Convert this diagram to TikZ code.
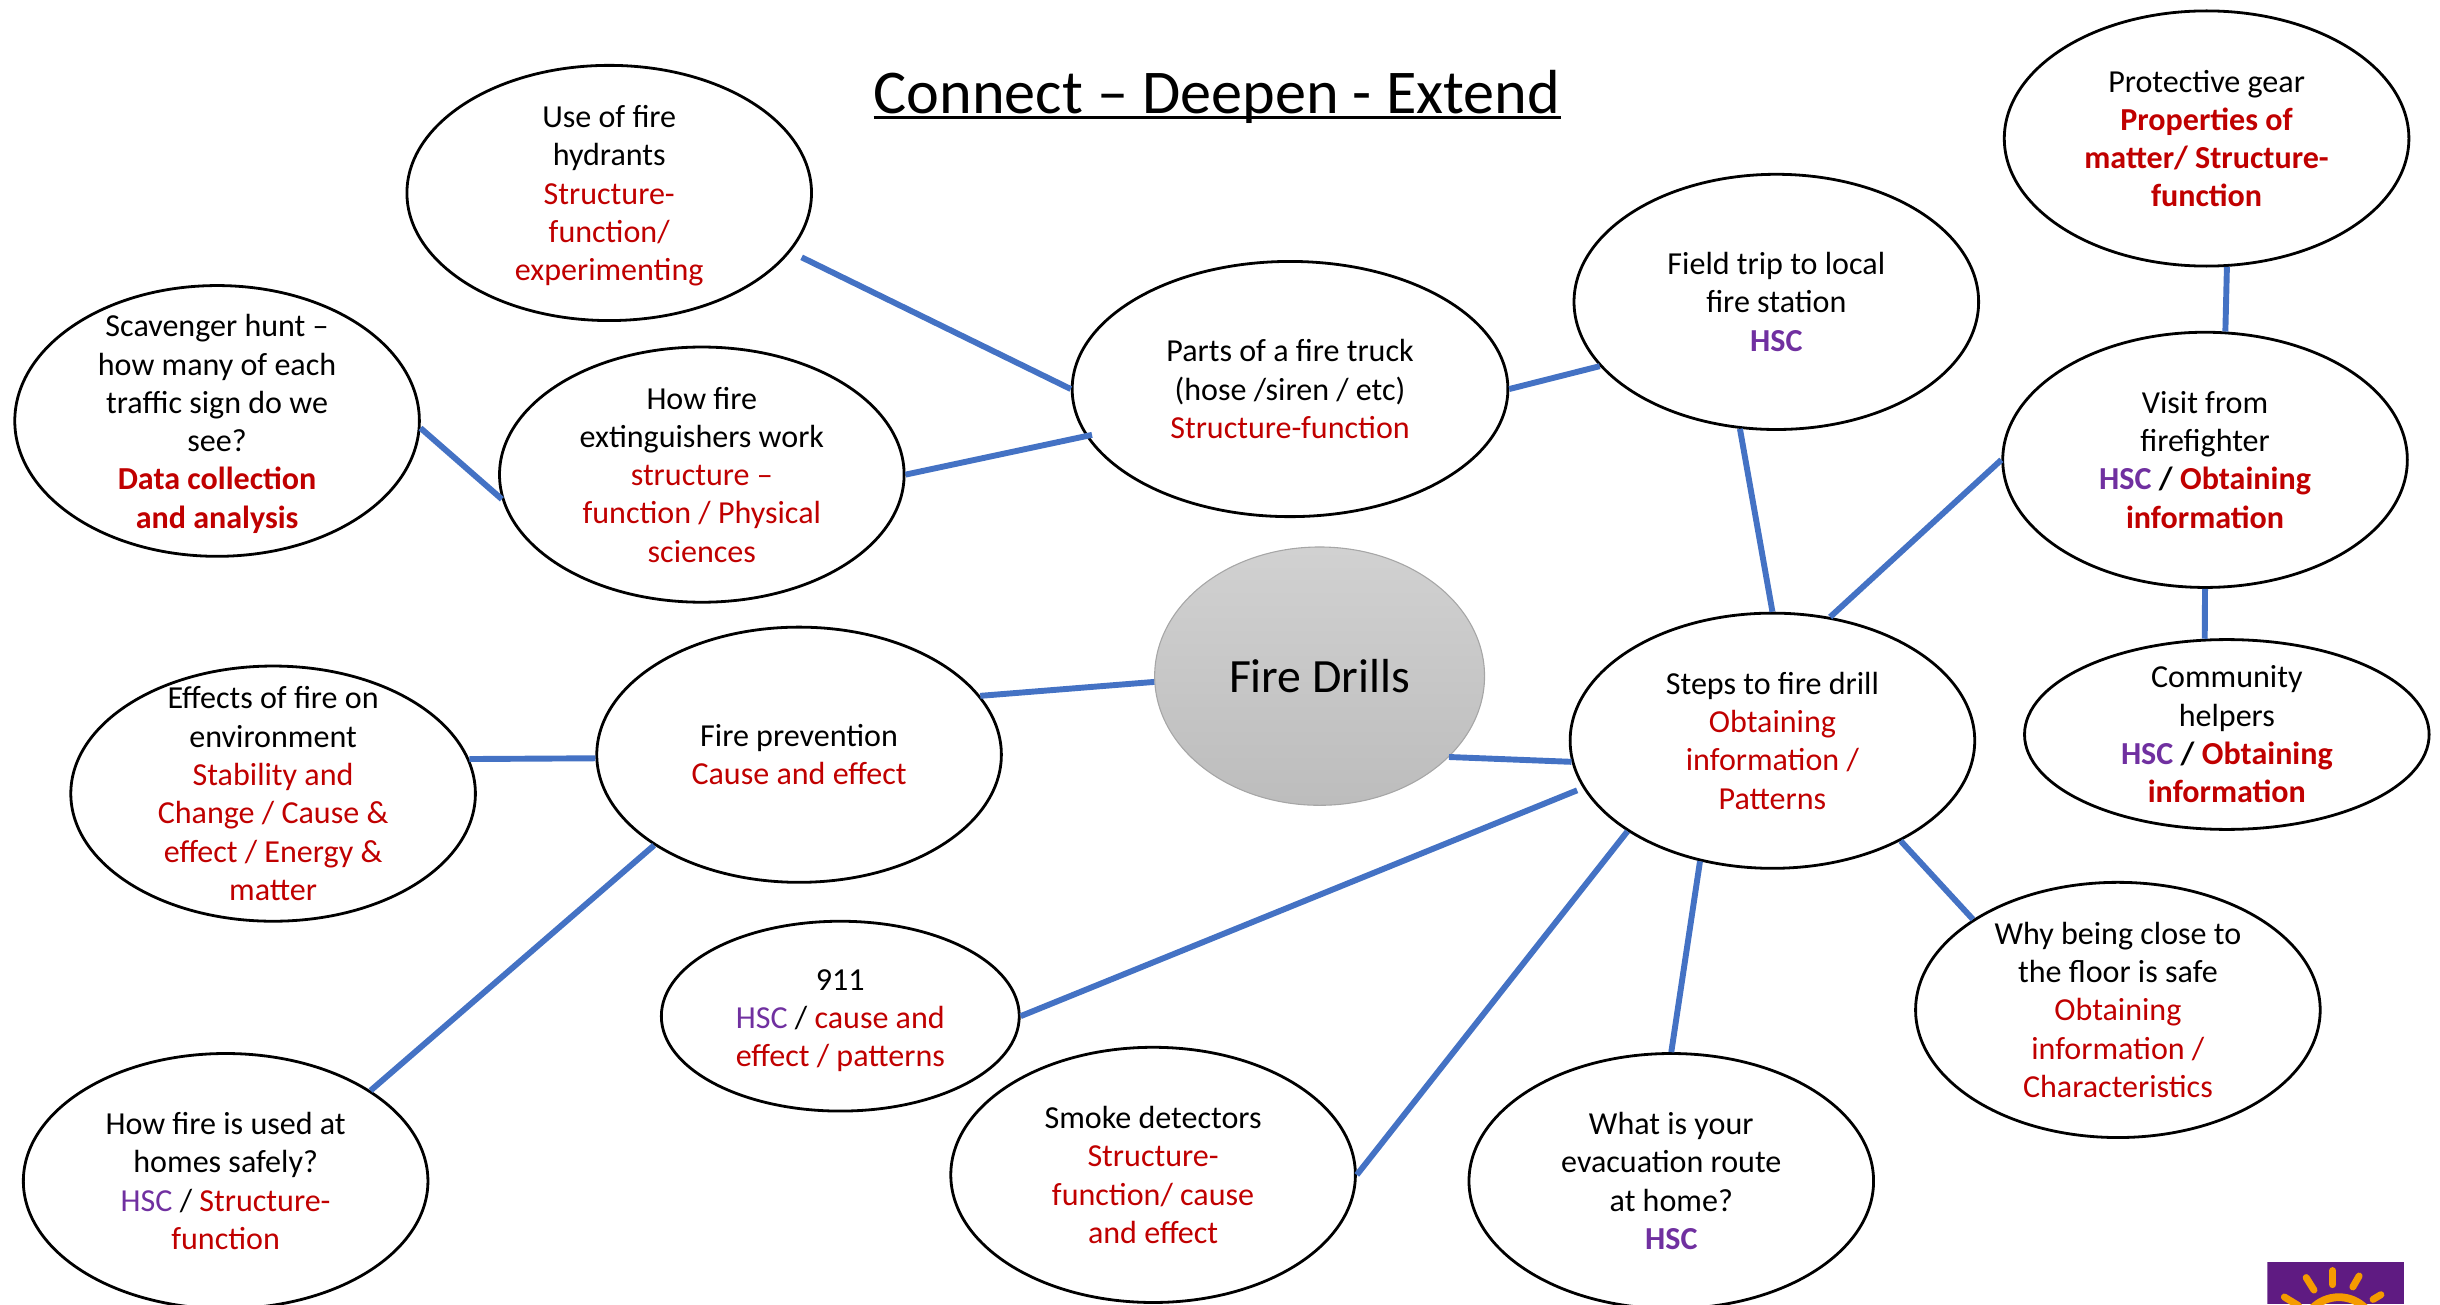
\documentclass[tikz,border=0pt]{standalone}
\usepackage{fontspec}
\setmainfont{Carlito}
\usetikzlibrary{shapes.geometric}
\definecolor{firered}{HTML}{C00000}
\definecolor{hscpurple}{HTML}{7030A0}
\definecolor{linkblue}{HTML}{4472C4}
\definecolor{logopurple}{HTML}{5F1B82}
\definecolor{logoorange}{HTML}{F59B00}
\newcommand{\rd}[1]{\textcolor{firered}{#1}}
\newcommand{\rb}[1]{\textcolor{firered}{\bfseries #1}}
\newcommand{\hsc}{\textcolor{hscpurple}{HSC}}
\newcommand{\hscb}{\textcolor{hscpurple}{\bfseries HSC}}
\newcommand{\dn}[1]{\rule{0pt}{#1pt}}
\tikzset{
  bubble/.style={draw=black, line width=1.8pt, ellipse, inner xsep=0pt, inner ysep=-15pt,
    minimum width=260pt, minimum height=164pt, align=center,
    font=\fontsize{20.6}{24.6}\selectfont},
  smallbubble/.style={bubble, minimum height=122pt},
  link/.style={draw=linkblue, line width=3.8pt},
  ray/.style={draw=logoorange, line width=4.5pt, line cap=round}
}
\begin{document}
\begin{tikzpicture}[x=1pt, y=-1pt]
\useasboundingbox (0,0) rectangle (1568,838);
\node[font=\fontsize{40}{48}\selectfont] (title) at (782,62.5) {\rlap{\rule[-3.5pt]{442pt}{2.2pt}}Connect – Deepen - Extend};
\node[bubble] (hydrant) at (391.5,124) {\dn{18}Use of fire\\hydrants\\\rd{Structure-}\\\rd{function/}\\\rd{experimenting}};
\node[bubble, minimum width=280pt] (truck) at (829,250) {Parts of a fire truck\\(hose /siren / etc)\\\rd{Structure-function}};
\node[bubble] (field) at (1141.5,194) {Field trip to local\\fire station\\\hscb};
\node[bubble] (gear) at (1418,89) {Protective gear\\\rb{Properties of}\\\rb{matter/ Structure-}\\\rb{function}};
\node[bubble, minimum height=174pt] (scavenger) at (139.5,270.5) {\dn{18}Scavenger hunt –\\how many of each\\traffic sign do we\\see?\\\rb{Data collection}\\\rb{and analysis}};
\node[bubble] (extinguisher) at (451,305) {How fire\\extinguishers work\\\rd{structure –}\\\rd{function / Physical}\\\rd{sciences}};
\node[bubble] (visit) at (1417,295.5) {Visit from\\firefighter\\\hscb{} \textbf{/} \rb{Obtaining}\\\rb{information}};
\node[smallbubble] (community) at (1431,472) {Community\\helpers\\\hscb{} \textbf{/} \rb{Obtaining}\\\rb{information}};
\node[bubble] (steps) at (1139,476) {Steps to fire drill\\\rd{Obtaining}\\\rd{information /}\\\rd{Patterns}};
\node[ellipse, draw=black!35, line width=0.7pt, top color=black!18, bottom color=black!26, inner sep=0pt,
  minimum width=212pt, minimum height=166pt, font=\fontsize{30.7}{38}\selectfont] (drills) at (848,434.5) {Fire Drills};
\node[bubble] (prevention) at (513.5,485) {Fire prevention\\\rd{Cause and effect}};
\node[bubble] (effects) at (175.5,510) {Effects of fire on\\environment\\\rd{Stability and}\\\rd{Change / Cause \&}\\\rd{effect / Energy \&}\\\rd{matter}};
\node[smallbubble, minimum width=230pt] (nine) at (540,653) {\dn{19}911\\\hsc{} / \rd{cause and}\\\rd{effect / patterns}};
\node[bubble] (homes) at (145,759) {How fire is used at\\homes safely?\\\hsc{} / \rd{Structure-}\\\rd{function}};
\node[bubble] (smoke) at (741,755) {Smoke detectors\\\rd{Structure-}\\\rd{function/ cause}\\\rd{and effect}};
\node[bubble] (route) at (1074,759) {What is your\\evacuation route\\at home?\\\hscb};
\node[bubble] (floor) at (1361,649) {Why being close to\\the floor is safe\\\rd{Obtaining}\\\rd{information /}\\\rd{Characteristics}};
\draw[link, shorten <=8pt] (hydrant.-18) -- (truck.west);
\draw[link, shorten >=-4pt] (extinguisher.east) -- (truck.193);
\draw[link] (scavenger.-2) -- (extinguisher.187);
\draw[link] (truck.east) -- (field.200);
\draw[link] (field.254) -- (steps.north);
\draw[link] (steps.65) -- (visit.west);
\draw[link] (gear.-81) -- (visit.81);
\draw[link] (visit.south) -- (community.103);
\draw[link] (steps.-38) -- (floor.148);
\draw[link] (steps.-121) -- (route.north);
\draw[link] (steps.212.7) -- (smoke.east);
\draw[link, shorten <=4pt] (steps.194.7) -- (nine.east);
\draw[link] (steps.186.5) -- (drills.-32);
\draw[link] (drills.182) -- (prevention.18.4);
\draw[link] (prevention.181.3) -- (effects.10.3);
\draw[link] (prevention.212.7) -- (homes.32.8);
\begin{scope}
\clip (1457,811) rectangle (1545,838);
\fill[logopurple] (1457,811) rectangle (1545,838);
\draw[ray] (1482,821) -- (1487,829);
\draw[ray] (1499,816.5) -- (1499,825.5);
\draw[ray] (1516,820) -- (1512,827);
\draw[ray] (1530,832) -- (1525,835);
\draw[ray] (1468,833.5) -- (1477,839);
\draw[logoorange, line width=5pt] (1503,857.6) circle (24);
\end{scope}
\end{tikzpicture}
\end{document}
